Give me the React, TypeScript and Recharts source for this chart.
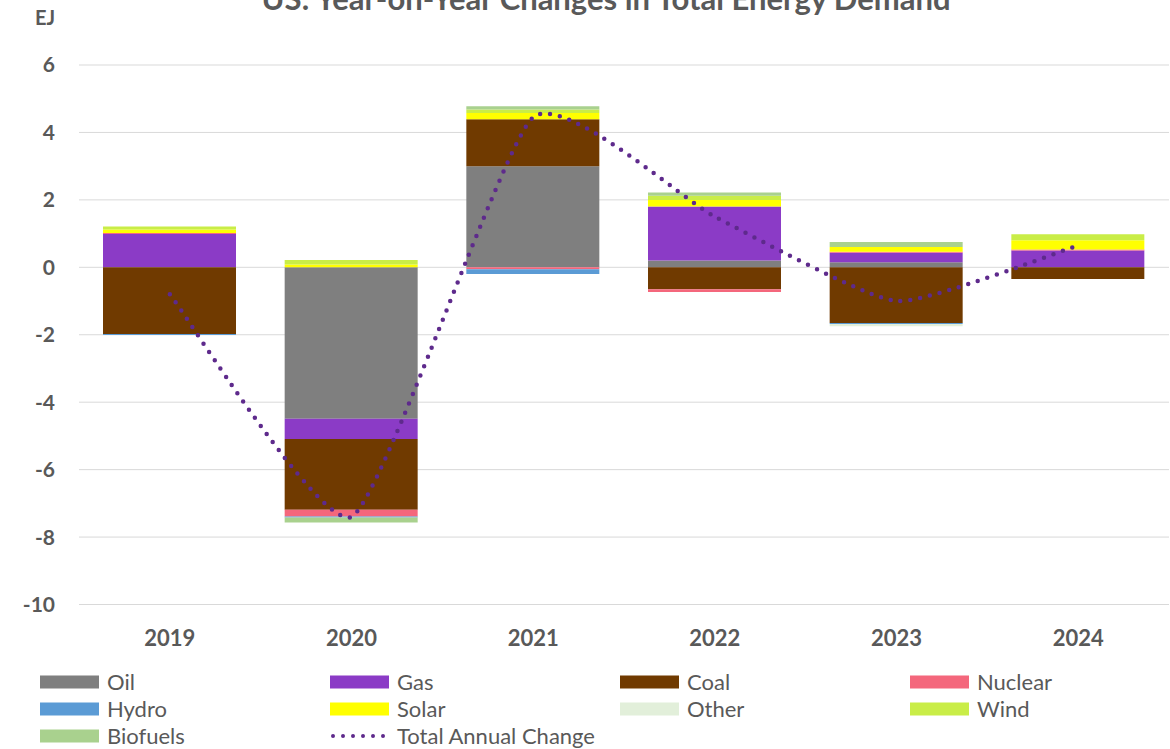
import React from 'react';
import { ComposedChart, Bar, Line, XAxis, YAxis, CartesianGrid } from 'recharts';

const years = ['2019', '2020', '2021', '2022', '2023', '2024'];
const oil = [0, -4.49, 3.0, 0.2, 0.15, 0];
const gas = [0.99, -0.6, 0, 1.6, 0.28, 0.5];
const coal = [-1.98, -2.1, 1.39, -0.65, -1.65, -0.35];
const nuclear = [0.03, -0.2, -0.06, -0.08, 0.03, 0.03];
const hydro = [-0.03, -0.03, -0.14, 0, -0.03, 0];
const solar = [0.1, 0.08, 0.19, 0.2, 0.14, 0.27];
const other = [0, 0, 0, 0, -0.07, 0];
const wind = [0.09, 0.14, 0.1, 0.12, 0, 0.18];
const biofuels = [0, -0.15, 0.1, 0.1, 0.15, 0];
const totalChange = [-0.8, -7.4, 4.45, 1.5, -1.0, 0.65];
const yTicks = [-10, -8, -6, -4, -2, 0, 2, 4, 6];

const seriesNames = ['Oil', 'Gas', 'Coal', 'Nuclear', 'Hydro', 'Solar', 'Other', 'Wind', 'Biofuels'];
const seriesValues = [oil, gas, coal, nuclear, hydro, solar, other, wind, biofuels];
const seriesColors = ['#7f7f7f', '#8b3bc6', '#703a00', '#f4677c', '#5b9bd5', '#ffff00', '#e2efda', '#c9ed47', '#a9d18e'];
const lineName = 'Total Annual Change';
const lineColor = '#5e2a8c';

const data = years.map((y, i) => {
  const row: Record<string, any> = { year: y, total: totalChange[i] };
  seriesNames.forEach((n, k) => {
    row[n] = seriesValues[k][i];
  });
  return row;
});

// Excel-like smoothed line (cardinal spline via cubic Bezier)
function excelSmooth(context: any) {
  let pts: number[][] = [];
  return {
    areaStart() {},
    areaEnd() {},
    lineStart() {
      pts = [];
    },
    point(x: number, y: number) {
      pts.push([+x, +y]);
    },
    lineEnd() {
      if (!pts.length) return;
      context.moveTo(pts[0][0], pts[0][1]);
      for (let i = 0; i < pts.length - 1; i++) {
        const p0 = pts[i - 1] || pts[i];
        const p1 = pts[i];
        const p2 = pts[i + 1];
        const p3 = pts[i + 2] || pts[i + 1];
        const t = 1 / 12;
        context.bezierCurveTo(
          p1[0] + (p2[0] - p0[0]) * t,
          p1[1] + (p2[1] - p0[1]) * t,
          p2[0] - (p3[0] - p1[0]) * t,
          p2[1] - (p3[1] - p1[1]) * t,
          p2[0],
          p2[1]
        );
      }
    },
  };
}

const FONT = 'Lato, "Open Sans", sans-serif';
const TEXT = '#595959';

const legendCols = [40, 330, 620, 910];
const legendRows = [682, 709, 736];

export default function App() {
  const legendItems = [
    ...seriesNames.map((n, k) => ({ name: n, color: seriesColors[k], line: false })),
    { name: lineName, color: lineColor, line: true },
  ];
  return (
    <div style={{ position: 'absolute', left: 0, top: 0, width: 1170, height: 749, background: '#fff', overflow: 'hidden' }}>
      <ComposedChart
        width={1170}
        height={660}
        data={data}
        stackOffset="sign"
        margin={{ top: 65, right: 1, bottom: 0, left: 0 }}
      >
        <CartesianGrid vertical={false} stroke="#d9d9d9" strokeWidth={1} />
        <XAxis
          dataKey="year"
          axisLine={false}
          tickLine={false}
          tickSize={0}
          tickMargin={26}
          height={55.5}
          tick={{ fontFamily: FONT, fontWeight: 700, fontSize: 22, fill: TEXT }}
        />
        <YAxis
          domain={[-10, 6]}
          ticks={yTicks}
          axisLine={false}
          tickLine={false}
          tickSize={0}
          tickMargin={24}
          width={79}
          tick={{ fontFamily: FONT, fontWeight: 700, fontSize: 21, fill: TEXT }}
        />
        {seriesNames.map((n, k) => (
          <Bar key={n} dataKey={n} stackId="a" fill={seriesColors[k]} barSize={133} isAnimationActive={false} />
        ))}
        <Line
          dataKey="total"
          type={excelSmooth as any}
          stroke={lineColor}
          strokeWidth={4.5}
          strokeDasharray="0 10"
          strokeLinecap="round"
          dot={false}
          activeDot={false}
          isAnimationActive={false}
        />
      </ComposedChart>
      <svg width={1170} height={749} style={{ position: 'absolute', left: 0, top: 0, pointerEvents: 'none' }}>
        <text x={606} y={10} textAnchor="middle" fontFamily={FONT} fontWeight={700} fontSize={31} fill={TEXT}>
          US: Year-on-Year Changes in Total Energy Demand
        </text>
        <text x={35} y={25} fontFamily={FONT} fontWeight={700} fontSize={20} fill={TEXT}>
          EJ
        </text>
        {legendItems.map((it, i) => {
          const cx = legendCols[i % 4];
          const cy = legendRows[Math.floor(i / 4)];
          return (
            <g key={it.name}>
              {it.line ? (
                <line
                  x1={cx + 3}
                  x2={cx + 58}
                  y1={cy}
                  y2={cy}
                  stroke={it.color}
                  strokeWidth={4}
                  strokeDasharray="0 10"
                  strokeLinecap="round"
                />
              ) : (
                <rect x={cx} y={cy - 6.5} width={59} height={13} fill={it.color} />
              )}
              <text x={cx + 67} y={cy + 8} fontFamily={FONT} fontSize={22} fill={TEXT}>
                {it.name}
              </text>
            </g>
          );
        })}
      </svg>
    </div>
  );
}
